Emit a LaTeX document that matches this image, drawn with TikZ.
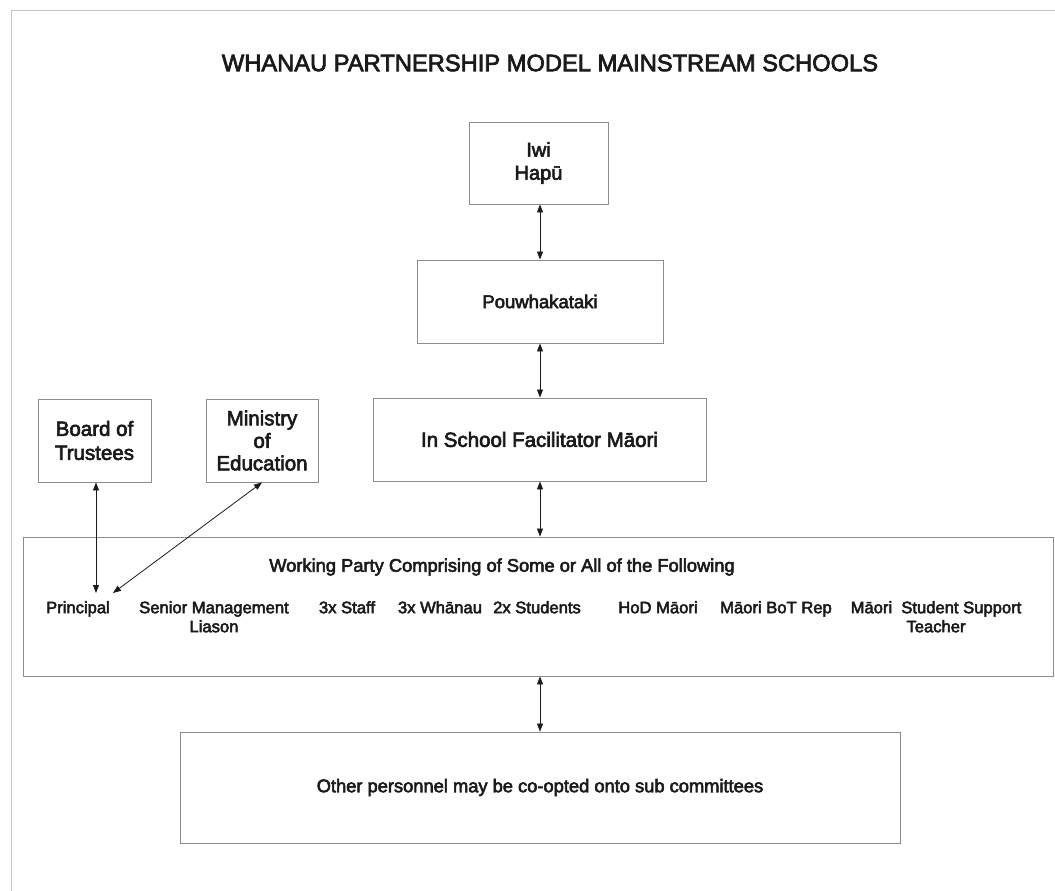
\documentclass[tikz,border=0pt]{standalone}
\usepackage{fontspec}
\setmainfont{Liberation Sans}[UprightFeatures={FakeBold=3}]
\usetikzlibrary{arrows.meta}
\definecolor{ink}{HTML}{1A1A1A}
\definecolor{frame}{HTML}{8C8C8C}
\definecolor{edge}{HTML}{C4C4C4}
\begin{document}
\begin{tikzpicture}[x=1pt,y=-1pt,
  box/.style={draw=frame, line width=0.9pt, inner sep=0pt, align=center, text=ink},
  lbl/.style={inner sep=0pt, align=center, text=ink},
  link/.style={draw=ink, line width=0.8pt, {Triangle[length=8pt,width=6pt]}-{Triangle[length=8pt,width=6pt]}}]
  \useasboundingbox (0,0) rectangle (1055,891);
  % page frame (top and left edges)
  \draw[edge, line width=0.9pt] (11,891) -- (11,10) -- (1055,10);
  % title
  \node[lbl, font=\fontsize{23.7}{27}\selectfont] (title) at (550,63) {WHANAU PARTNERSHIP MODEL MAINSTREAM SCHOOLS};
  % chain of boxes
  \node[box, minimum width=139pt, minimum height=82pt, font=\fontsize{20}{23}\selectfont] (iwi) at (538.5,163) {Iwi\\Hapū};
  \node[box, minimum width=246pt, minimum height=83pt, font=\fontsize{18.5}{22}\selectfont] (pou) at (540,301.5) {Pouwhakataki};
  \node[box, minimum width=333pt, minimum height=83pt, font=\fontsize{20.5}{24}\selectfont] (fac) at (539.5,439.5) {In School Facilitator Māori};
  \node[box, minimum width=113pt, minimum height=83pt, font=\fontsize{20.5}{24}\selectfont] (bot) at (94.5,440.5) {Board of\\Trustees};
  \node[box, minimum width=112pt, minimum height=83pt, font=\fontsize{20.5}{22.5}\selectfont] (moe) at (262,440.5) {Ministry\\of\\Education};
  \node[box, minimum width=1030pt, minimum height=139pt] (wp) at (538,606.5) {};
  \node[box, minimum width=720pt, minimum height=111pt, font=\fontsize{18.3}{22}\selectfont] (other) at (540,787.5) {Other personnel may be co-opted onto sub committees};
  % working party contents
  \node[lbl, font=\fontsize{18.3}{22}\selectfont] (wphead) at (502,567) {Working Party Comprising of Some or All of the Following};
  \begin{scope}[every node/.style={lbl, anchor=north, font=\fontsize{16.6}{19}\selectfont}]
    \node (prin) at (78,601) {Principal};
    \node (smt) at (214,601) {Senior Management\\Liason};
    \node (staff) at (347,601) {3x Staff};
    \node (wh) at (440,601) {3x Whānau};
    \node (stu) at (537,601) {2x Students};
    \node (hod) at (658,601) {HoD Māori};
    \node (botrep) at (776,601) {Māori BoT Rep};
    \node (msst) at (936,601) {Māori\ \ Student Support\\Teacher};
  \end{scope}
  % arrow ends above the Principal label
  \coordinate (pa) at (96,593);
  \coordinate (pb) at (113,593);
  % connectors
  \draw[link] (iwi.south -| 540,0) -- (pou.north -| 540,0);
  \draw[link] (pou.south -| 540,0) -- (fac.north -| 540,0);
  \draw[link] (fac.south -| 540,0) -- (wp.north -| 540,0);
  \draw[link] (wp.south -| 540,0) -- (other.north -| 540,0);
  \draw[link] (bot.south -| pa) -- (pa);
  \draw[link] (moe.south) -- (pb);
\end{tikzpicture}
\end{document}
